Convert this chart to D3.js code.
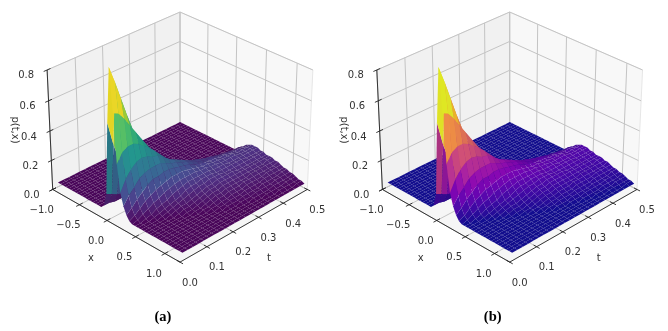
<!DOCTYPE html>
<html>
<head>
<meta charset="utf-8">
<script src="https://cdn.jsdelivr.net/npm/d3@7"></script>
<style>
html, body { margin: 0; padding: 0; background: #fff; }
svg { display: block; filter: blur(0.5px); }
text { font-family: "DejaVu Sans", sans-serif; font-size: 10px; fill: #333; }
.caption { font-family: "Liberation Serif", serif; font-size: 14.5px; font-weight: bold; fill: #000; }
</style>
</head>
<body>
<svg width="668" height="331"></svg>
<script>
// tick labels
const xTicks = [-1, -0.5, 0, 0.5, 1];
const tTicks = [0, 0.1, 0.2, 0.3, 0.4, 0.5];
const zTicks = [0, 0.2, 0.4, 0.6, 0.8];

// surface grid
const xValues = [-1,-0.95,-0.9,-0.85,-0.8,-0.75,-0.7,-0.65,-0.6,-0.55,-0.5,-0.45,-0.4,-0.35,-0.3,-0.25,-0.2,-0.15,-0.1,-0.05,0,0.05,0.1,0.15,0.2,0.25,0.3,0.35,0.4,0.45,0.5,0.55,0.6,0.65,0.7,0.75,0.8,0.85,0.9,0.95,1,1.05,1.1,1.15,1.2];
const tValues = [0.02,0.04,0.06,0.08,0.1,0.12,0.14,0.16,0.18,0.2,0.22,0.24,0.26,0.28,0.3,0.32,0.34,0.36,0.38,0.4,0.42,0.44,0.46,0.48,0.5];
// p(t,x) in hundredths, one row per t
const pValues = [
[3,3,3,3,3,3,3,3,3,3,3,3,3,3,3,3,3,5,14,62,98,70,38,20,12,7,4,3,3,3,3,3,3,3,3,3,3,3,3,3,3,3,3,3,3],
[3,3,3,3,3,3,3,3,3,3,3,3,3,3,3,3,3,5,12,46,87,68,44,27,17,10,6,4,3,3,3,3,3,3,3,3,3,3,3,3,3,3,3,3,3],
[3,3,3,3,3,3,3,3,3,3,3,3,3,3,3,3,3,4,10,34,75,63,46,32,21,14,9,6,4,3,3,3,3,3,3,3,3,3,3,3,3,3,3,3,3],
[3,3,3,3,3,3,3,3,3,3,3,3,3,3,3,3,3,4,9,27,63,57,46,35,25,17,12,8,5,4,3,3,3,3,3,3,3,3,3,3,3,3,3,3,3],
[3,3,3,3,3,3,3,3,3,3,3,3,3,3,3,3,3,4,8,22,52,51,44,36,27,20,14,10,7,5,4,3,3,3,3,3,3,3,3,3,3,3,3,3,3],
[3,3,3,3,3,3,3,3,3,3,3,3,3,3,3,3,3,3,7,18,42,45,41,35,28,22,16,11,8,6,5,4,3,3,3,3,3,3,3,3,3,3,3,3,3],
[3,3,3,3,3,3,3,3,3,3,3,3,3,3,3,3,3,3,7,16,34,39,38,33,28,22,17,13,9,7,6,5,4,3,3,3,3,3,3,3,3,3,3,3,3],
[3,3,3,3,3,3,3,3,3,3,3,3,3,3,3,3,3,3,6,14,28,33,34,32,28,23,18,14,11,8,7,6,5,4,3,3,3,3,3,3,3,3,3,3,3],
[3,3,3,3,3,3,3,3,3,3,3,3,3,3,3,3,3,3,5,12,23,28,30,29,26,23,19,15,12,9,8,6,5,4,4,3,3,3,3,3,3,3,3,3,3],
[3,3,3,3,3,3,3,3,3,3,3,3,3,3,3,3,3,3,4,10,18,24,26,26,24,22,19,16,13,11,9,7,6,5,4,4,3,3,3,3,3,3,3,3,3],
[3,3,3,3,3,3,3,3,3,3,3,3,3,3,3,3,3,3,4,9,16,21,23,24,23,21,19,16,14,12,10,8,7,6,5,4,4,3,3,3,3,3,3,3,3],
[3,3,3,3,3,3,3,3,3,3,3,3,3,3,3,3,3,3,3,8,14,18,21,22,21,20,18,16,14,12,11,9,8,7,6,5,4,4,3,3,3,3,3,3,3],
[3,3,3,3,3,3,3,3,3,3,3,3,3,3,3,3,3,3,3,7,12,16,19,20,20,19,17,16,14,13,11,10,9,8,7,6,5,4,4,3,3,3,3,3,3],
[3,3,3,3,3,3,3,3,3,3,3,3,3,3,3,3,3,3,3,6,11,15,17,18,18,17,16,15,14,13,12,10,9,8,7,6,5,5,4,3,3,3,3,3,3],
[3,3,3,3,3,3,3,3,3,3,3,3,3,3,3,3,3,3,3,5,10,13,15,16,16,16,15,15,14,13,12,11,10,9,8,7,6,5,4,4,3,3,3,3,3],
[3,3,3,3,3,3,3,3,3,3,3,3,3,3,3,3,3,3,3,5,8,11,14,15,15,15,15,14,13,12,12,11,10,9,8,7,6,5,5,4,3,3,3,3,3],
[3,3,3,3,3,3,3,3,3,3,3,3,3,3,3,3,3,3,3,4,7,10,12,14,14,14,14,14,13,12,11,11,10,9,8,7,6,6,5,4,4,3,3,3,3],
[3,3,3,3,3,3,3,3,3,3,3,3,3,3,3,3,3,3,3,4,6,9,11,13,14,14,14,13,13,12,11,11,10,9,8,8,7,6,5,5,4,3,3,3,3],
[3,3,3,3,3,3,3,3,3,3,3,3,3,3,3,3,3,3,3,3,5,8,10,12,13,13,13,13,12,12,11,10,10,9,8,8,7,6,5,5,4,4,3,3,3],
[3,3,3,3,3,3,3,3,3,3,3,3,3,3,3,3,3,3,3,3,5,7,9,11,12,13,13,13,12,12,11,10,10,9,9,8,7,6,6,5,4,4,3,3,3],
[3,3,3,3,3,3,3,3,3,3,3,3,3,3,3,3,3,3,3,3,4,6,9,10,12,12,13,13,12,12,11,10,10,9,9,8,7,7,6,5,5,4,4,3,3],
[3,3,3,3,3,3,3,3,3,3,3,3,3,3,3,3,3,3,3,3,4,6,8,10,11,12,12,12,12,11,11,10,10,9,9,8,8,7,6,6,5,4,4,3,3],
[3,3,3,3,3,3,3,3,3,3,3,3,3,3,3,3,3,3,3,3,4,5,7,9,11,12,12,12,12,11,11,10,10,9,9,8,8,7,6,6,5,5,4,3,3],
[3,3,3,3,3,3,3,3,3,3,3,3,3,3,3,3,3,3,3,3,3,5,7,9,10,11,12,12,12,11,11,10,10,10,9,8,8,7,7,6,5,5,4,4,3],
[3,3,3,3,3,3,3,3,3,3,3,3,3,3,3,3,3,3,3,3,3,4,6,8,10,11,12,12,12,11,11,10,10,10,9,9,8,7,7,6,6,5,4,4,3]
];

const xLim = [-1, 1.25];
const tLim = [0, 0.5];
const zLim = [0, 0.8];

// matplotlib style camera: elev 30, azim -45, distance 10
const boxW = 1.1429, boxH = 0.8571;
const xBox = d3.scaleLinear().domain(xLim).range([-boxW / 2, boxW / 2]);
const tBox = d3.scaleLinear().domain(tLim).range([-boxW / 2, boxW / 2]);
const zBox = d3.scaleLinear().domain(zLim).range([-boxH / 2, boxH / 2]);
const camW = [0.6124, -0.6124, 0.5], camU = [0.7071, 0.7071, 0], camV = [-0.3536, 0.3536, 0.866];
const focal = 1609, originX = 180, originY = 131;

function depth(x, t, z) {
	return 10 - (xBox(x) * camW[0] + tBox(t) * camW[1] + zBox(z) * camW[2]);
}
function project(x, t, z) {
	const X = xBox(x), T = tBox(t), Z = zBox(z), d = depth(x, t, z);
	return [
		originX + focal * (X * camU[0] + T * camU[1]) / d,
		originY - focal * (X * camV[0] + T * camV[1] + Z * camV[2]) / d
	];
}

// build the quads once, both panels use the same ones
const cells = [];
const light = [0.45, -0.6, 0.66];
for (let j = 0; j < tValues.length - 1; j++) {
	for (let i = 0; i < xValues.length - 1; i++) {
		const z00 = pValues[j][i] / 100, z10 = pValues[j][i + 1] / 100;
		const z01 = pValues[j + 1][i] / 100, z11 = pValues[j + 1][i + 1] / 100;
		const x0 = xValues[i], x1 = xValues[i + 1], t0 = tValues[j], t1 = tValues[j + 1];
		// slopes in box units so the shading stays gentle
		const dzdx = ((z10 - z00) + (z11 - z01)) / 2 / (x1 - x0) * 2.1;
		const dzdt = ((z01 - z00) + (z11 - z10)) / 2 / (t1 - t0) * 0.47;
		const len = Math.hypot(dzdx, dzdt, 1);
		const shade = (-dzdx * light[0] - dzdt * light[1] + light[2]) / len;
		cells.push({
			z: (z00 + z10 + z01 + z11) / 4,
			shade: shade,
			depth: depth((x0 + x1) / 2, (t0 + t1) / 2, (z00 + z10 + z01 + z11) / 4),
			points: [project(x0, t0, z00), project(x1, t0, z10), project(x1, t1, z11), project(x0, t1, z01)]
		});
	}
}
cells.sort((a, b) => b.depth - a.depth);

const svg = d3.select("svg");
const line = d3.line();
const tickFormat = d3.format(".1f");

function drawPanel(offsetX, interpolator, caption) {
	const g = svg.append("g").attr("transform", `translate(${offsetX},0)`);
	const color = d3.scaleSequential(interpolator).domain([0.03, 0.74]);

	// panes
	const [x0, x1] = xLim, [t0, t1] = tLim, [z0, z1] = zLim;
	const panes = [
		{ fill: "#f1f1f1", pts: [[x0, t0, z0], [x0, t1, z0], [x0, t1, z1], [x0, t0, z1]] },
		{ fill: "#f8f8f8", pts: [[x0, t1, z0], [x1, t1, z0], [x1, t1, z1], [x0, t1, z1]] },
		{ fill: "#f6f6f6", pts: [[x0, t0, z0], [x1, t0, z0], [x1, t1, z0], [x0, t1, z0]] }
	];
	g.selectAll(".pane").data(panes).enter().append("path")
		.attr("class", "pane")
		.attr("d", d => line(d.pts.map(p => project(...p))) + "Z")
		.attr("fill", d => d.fill)
		.attr("stroke", "#e6e6e6")
		.attr("stroke-width", 1);

	// grid lines on the three panes
	const gridLines = [];
	tTicks.forEach(t => {
		gridLines.push([[x0, t, z0], [x0, t, z1]]);
		gridLines.push([[x0, t, z0], [x1, t, z0]]);
	});
	xTicks.forEach(x => {
		gridLines.push([[x, t1, z0], [x, t1, z1]]);
		gridLines.push([[x, t0, z0], [x, t1, z0]]);
	});
	zTicks.forEach(z => {
		gridLines.push([[x0, t0, z], [x0, t1, z]]);
		gridLines.push([[x0, t1, z], [x1, t1, z]]);
	});
	g.selectAll(".grid").data(gridLines).enter().append("path")
		.attr("class", "grid")
		.attr("d", d => line(d.map(p => project(...p))))
		.attr("fill", "none")
		.attr("stroke", "#c4c4c4")
		.attr("stroke-width", 1);

	// axis lines and tick marks
	const axisLines = [
		[[x0, t0, z0], [x1, t0, z0]],
		[[x1, t0, z0], [x1, t1, z0]],
		[[x0, t0, z0], [x0, t0, z1]]
	];
	xTicks.forEach(x => axisLines.push([[x, t0 - 0.012, z0], [x, t0 + 0.012, z0]]));
	tTicks.forEach(t => axisLines.push([[x1 + 0.05, t, z0], [x1 - 0.05, t, z0]]));
	zTicks.forEach(z => axisLines.push([[x0, t0 - 0.012, z], [x0, t0 + 0.012, z]]));
	g.selectAll(".axis").data(axisLines).enter().append("path")
		.attr("class", "axis")
		.attr("d", d => line(d.map(p => project(...p))))
		.attr("fill", "none")
		.attr("stroke", "#222")
		.attr("stroke-width", 0.9);

	// surface, far quads first
	g.selectAll(".cell").data(cells).enter().append("path")
		.attr("class", "cell")
		.attr("d", d => line(d.points) + "Z")
		.attr("fill", d => {
			const c = d3.rgb(color(d.z));
			const k = Math.max(0.9, Math.min(1.03, 0.74 + 0.4 * d.shade));
			c.r = Math.min(255, c.r * k + 5);
			c.g = Math.min(255, c.g * k + 5);
			c.b = Math.min(255, c.b * k + 5);
			return c.formatRgb();
		});

	// tick labels
	g.selectAll(".xlabel").data(xTicks).enter().append("text")
		.attr("class", "xlabel")
		.attr("transform", d => { const p = project(d, t0, z0); return `translate(${p[0] - 11},${p[1] + 20})`; })
		.attr("text-anchor", "middle").attr("dy", "0.35em")
		.text(tickFormat);
	g.selectAll(".tlabel").data(tTicks).enter().append("text")
		.attr("class", "tlabel")
		.attr("transform", d => { const p = project(x1, d, z0); return `translate(${p[0] + 10},${p[1] + 20})`; })
		.attr("text-anchor", "middle").attr("dy", "0.35em")
		.text(tickFormat);
	g.selectAll(".zlabel").data(zTicks).enter().append("text")
		.attr("class", "zlabel")
		.attr("transform", d => { const p = project(x0, t0, d); return `translate(${p[0] - 21},${p[1] + 5})`; })
		.attr("text-anchor", "middle").attr("dy", "0.35em")
		.text(tickFormat);

	// axis titles
	g.append("text").attr("x", 91).attr("y", 257).attr("text-anchor", "middle").attr("dy", "0.35em").text("x");
	g.append("text").attr("x", 269).attr("y", 257).attr("text-anchor", "middle").attr("dy", "0.35em").text("t");
	g.append("text").attr("transform", "translate(15,130) rotate(90)").attr("text-anchor", "middle").attr("dy", "0.35em").text("p(t,x)");

	g.append("text").attr("class", "caption").attr("x", 163).attr("y", 316)
		.attr("text-anchor", "middle").attr("dy", "0.35em").text(caption);
}

drawPanel(0, d3.interpolateViridis, "(a)");
drawPanel(329.7, d3.interpolatePlasma, "(b)");
</script>
</body>
</html>
